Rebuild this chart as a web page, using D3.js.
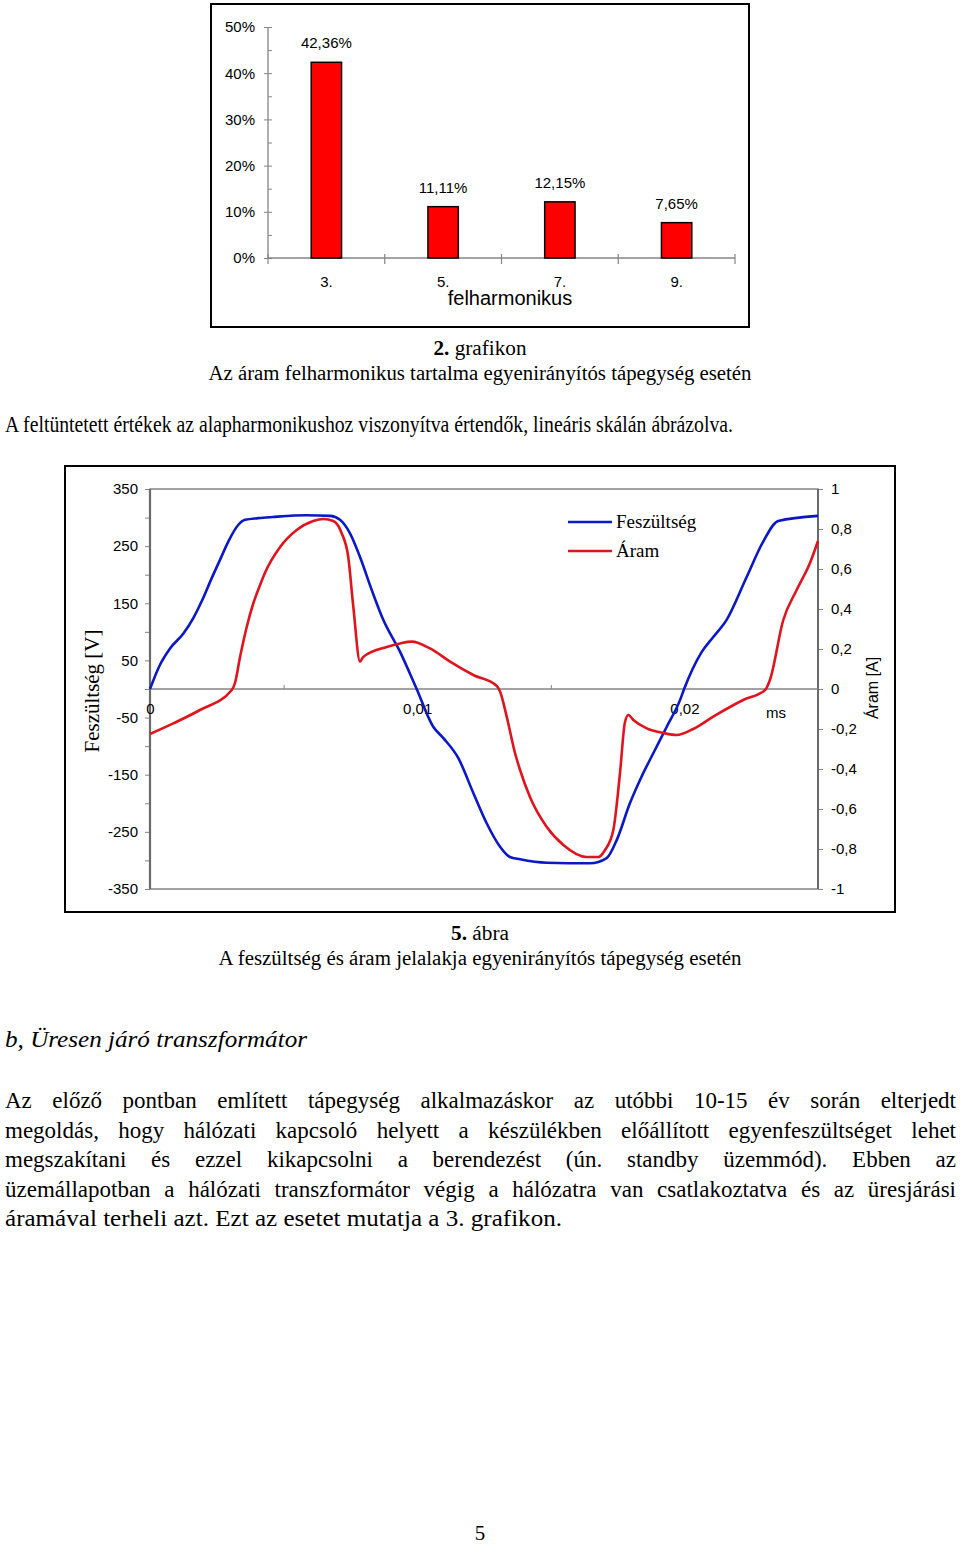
<!DOCTYPE html>
<html><head><meta charset="utf-8">
<script src="https://cdn.jsdelivr.net/npm/d3@7"></script>
<style>body{margin:0;background:#fff;} svg{display:block}</style>
</head><body>
<svg id="page" width="960" height="1545"></svg>
<script>
// ---------- DATA ----------
const harmonicCategories = ["3.", "5.", "7.", "9."];
const harmonicValues = [42.36, 11.11, 12.15, 7.65];
const harmonicLabels = ["42,36%", "11,11%", "12,15%", "7,65%"];
const barTickValues = [0, 10, 20, 30, 40, 50];
const barMinorTicks = [5, 15, 25, 35, 45];

const voltageTime = [0, 0.00037, 0.00075, 0.00125, 0.00162, 0.00193, 0.00231, 0.00262, 0.00293, 0.0033,
  0.00356, 0.00405, 0.0046, 0.00586, 0.00674, 0.00711, 0.00749, 0.00786, 0.0083, 0.00873,
  0.00936, 0.00998, 0.0106, 0.01098, 0.01154, 0.0121, 0.0126, 0.0131, 0.01347, 0.01385,
  0.01485, 0.01647, 0.01709, 0.01747, 0.01796, 0.0184, 0.01884, 0.01934, 0.01984, 0.01999,
  0.02065, 0.02108, 0.02158, 0.02233, 0.02295, 0.02351, 0.0250];
const voltageValues = [0, 42, 71, 97, 124, 153, 194, 226, 258, 287,
  296, 299, 301, 304, 303, 296, 272, 231, 173, 121,
  65, 0, -66, -86, -121, -182, -235, -276, -294, -298,
  -304, -305, -296, -264, -200, -153, -112, -66, -19, 0,
  65, 91, 121, 196, 258, 294, 303];

const currentTime = [0, 0.00087, 0.00187, 0.00306, 0.00318, 0.00337, 0.00362, 0.00387, 0.00412, 0.0043,
  0.00487, 0.00549, 0.00611, 0.00649, 0.00686, 0.00717, 0.00742, 0.00761, 0.00786, 0.00798,
  0.00886, 0.00936, 0.0098, 0.01048, 0.01123, 0.0121, 0.01298, 0.0131, 0.01335, 0.01366,
  0.01385, 0.01422, 0.01485, 0.01547, 0.01634, 0.01678, 0.01703, 0.01734, 0.01759, 0.01777,
  0.0179, 0.01809, 0.01859, 0.01921, 0.01971, 0.02033, 0.02108, 0.0222, 0.02302, 0.0232,
  0.0237, 0.0242, 0.0247, 0.0250];
const currentValues = [-0.225, -0.172, -0.105, -0.005, 0.03, 0.16, 0.31, 0.43, 0.52, 0.58,
  0.71, 0.795, 0.84, 0.85, 0.84, 0.78, 0.66, 0.41, 0.137, 0.16,
  0.21, 0.228, 0.237, 0.203, 0.137, 0.07, 0.015, -0.013, -0.138, -0.32,
  -0.405, -0.54, -0.69, -0.78, -0.84, -0.84, -0.805, -0.705, -0.42, -0.17,
  -0.13, -0.155, -0.197, -0.22, -0.23, -0.2, -0.138, -0.055, -0.005, 0.045,
  0.345, 0.495, 0.63, 0.74];

const voltageTicks = [-350, -250, -150, -50, 50, 150, 250, 350];
const voltageMinorTicks = [-300, -200, -100, 0, 100, 200, 300];
const currentTicks = [-1, -0.8, -0.6, -0.4, -0.2, 0, 0.2, 0.4, 0.6, 0.8, 1];
const timeTickLabels = [0, 0.01, 0.02];
const timeMinorTicks = [0.005, 0.015];
const seriesNames = ["Feszültség", "Áram"];

const bodyLines = [
  "Az előző pontban említett tápegység alkalmazáskor az utóbbi 10-15 év során elterjedt",
  "megoldás,  hogy hálózati kapcsoló helyett a készülékben előállított egyenfeszültséget lehet",
  "megszakítani és ezzel kikapcsolni a berendezést (ún. standby üzemmód). Ebben az",
  "üzemállapotban a hálózati transzformátor végig a hálózatra van csatlakoztatva és az üresjárási",
  "áramával terheli azt. Ezt az esetet mutatja a 3. grafikon."
];

// ---------- RENDER ----------
const svg = d3.select("#page");
const SANS = "'Liberation Sans', Arial, sans-serif";
const SERIF = "'Liberation Serif', 'Times New Roman', serif";
const GRAY = "#858585";
const comma = d => d === 0 ? "0" : String(d).replace(".", ",");

function styleAxis(g, size) {
  g.selectAll("text").attr("font-family", SANS).attr("font-size", size).attr("fill", "#000");
  g.selectAll("line").attr("stroke", GRAY);
  g.select(".domain").remove();
}

// ===== Bar chart =====
svg.append("rect").attr("x", 211).attr("y", 4).attr("width", 538).attr("height", 323)
  .attr("fill", "none").attr("stroke", "#000").attr("stroke-width", 2);

const xb = d3.scaleBand().domain(harmonicCategories).range([268, 735]).padding(0);
const yb = d3.scaleLinear().domain([0, 50]).range([258, 27]);

const gyb = svg.append("g").attr("transform", "translate(268,0)")
  .call(d3.axisLeft(yb).tickValues(barTickValues).tickFormat(d => d + "%").tickSize(5).tickPadding(8));
styleAxis(gyb, 15);
gyb.selectAll(".tick line").attr("x2", -4).attr("x1", 4);
const gybm = svg.append("g").attr("transform", "translate(268,0)")
  .call(d3.axisRight(yb).tickValues(barMinorTicks).tickFormat("").tickSize(4));
styleAxis(gybm, 15);
svg.append("line").attr("x1", 268).attr("x2", 268).attr("y1", yb(50)).attr("y2", yb(0))
  .attr("stroke", GRAY).attr("stroke-width", 1.3);

const gxb = svg.append("g").attr("transform", `translate(0,${yb(0)})`)
  .call(d3.axisBottom(xb).tickSize(0).tickPadding(18));
styleAxis(gxb, 15);
svg.append("line").attr("x1", xb.range()[0]).attr("x2", xb.range()[1]).attr("y1", yb(0)).attr("y2", yb(0))
  .attr("stroke", GRAY).attr("stroke-width", 1.3);
const bounds = harmonicCategories.map(c => xb(c)).concat([xb.range()[1]]);
svg.selectAll(".bnd").data(bounds).enter().append("line")
  .attr("x1", d => d).attr("x2", d => d).attr("y1", yb(0) - 4).attr("y2", yb(0) + 6)
  .attr("stroke", GRAY).attr("stroke-width", 1.2);

const barW = xb.bandwidth() * 0.26;
svg.selectAll(".bar").data(harmonicValues).enter().append("rect")
  .attr("x", (d, i) => xb(harmonicCategories[i]) + (xb.bandwidth() - barW) / 2)
  .attr("y", d => yb(d)).attr("width", barW).attr("height", d => yb(0) - yb(d))
  .attr("fill", "#ff0000").attr("stroke", "#000").attr("stroke-width", 1.5);
svg.selectAll(".blab").data(harmonicValues).enter().append("text")
  .attr("x", (d, i) => xb(harmonicCategories[i]) + xb.bandwidth() / 2)
  .attr("y", d => yb(d) - 14).attr("text-anchor", "middle")
  .attr("font-family", SANS).attr("font-size", 15)
  .text((d, i) => harmonicLabels[i]);
svg.append("text").attr("x", 510).attr("y", 305).attr("text-anchor", "middle")
  .attr("font-family", SANS).attr("font-size", 20).text("felharmonikus");

// ===== captions =====
function fitText(x, y, str, size, width, opts = {}) {
  const t = svg.append("text").attr("x", x).attr("y", y)
    .attr("font-family", SERIF).attr("font-size", size)
    .attr("text-anchor", opts.anchor || "start");
  if (opts.italic) t.attr("font-style", "italic");
  if (opts.boldPrefix) {
    t.append("tspan").attr("font-weight", "bold").text(opts.boldPrefix);
    t.append("tspan").text(str);
  } else t.text(str);
  if (width) t.attr("textLength", width).attr("lengthAdjust", "spacingAndGlyphs");
  return t;
}
fitText(480, 355, " grafikon", 20, 93, { anchor: "middle", boldPrefix: "2." });
fitText(480, 380, "Az áram felharmonikus tartalma egyenirányítós tápegység esetén", 20, 543, { anchor: "middle" });
fitText(5, 432, "A feltüntetett értékek az alapharmonikushoz viszonyítva értendők, lineáris skálán ábrázolva.", 23, 728);

// ===== Line chart =====
svg.append("rect").attr("x", 65).attr("y", 466).attr("width", 830).attr("height", 446)
  .attr("fill", "none").attr("stroke", "#000").attr("stroke-width", 2);

const xt = d3.scaleLinear().domain([0, 0.025]).range([150, 818]);
const yv = d3.scaleLinear().domain([-350, 350]).range([889, 489]);
const yi = d3.scaleLinear().domain([-1, 1]).range([889, 489]);

svg.append("rect").attr("x", 150).attr("y", 489).attr("width", 668).attr("height", 400)
  .attr("fill", "none").attr("stroke", GRAY).attr("stroke-width", 1.5);

const gyl = svg.append("g").attr("transform", "translate(150,0)")
  .call(d3.axisLeft(yv).tickValues(voltageTicks).tickFormat(d => String(d)).tickSize(5).tickPadding(7));
styleAxis(gyl, 15);
const gylm = svg.append("g").attr("transform", "translate(150,0)")
  .call(d3.axisLeft(yv).tickValues(voltageMinorTicks).tickFormat("").tickSize(5));
styleAxis(gylm, 15);
svg.append("line").attr("x1", 150).attr("x2", 150).attr("y1", 489).attr("y2", 889)
  .attr("stroke", "#6a6a6a").attr("stroke-width", 2.2);

const gyr = svg.append("g").attr("transform", "translate(818,0)")
  .call(d3.axisRight(yi).tickValues(currentTicks).tickFormat(comma).tickSize(5).tickPadding(8));
styleAxis(gyr, 15);
svg.append("line").attr("x1", 818).attr("x2", 818).attr("y1", 489).attr("y2", 889)
  .attr("stroke", "#6a6a6a").attr("stroke-width", 2);

svg.append("line").attr("x1", 150).attr("x2", 818).attr("y1", yv(0)).attr("y2", yv(0))
  .attr("stroke", GRAY).attr("stroke-width", 1.3);
const gxt = svg.append("g").attr("transform", `translate(0,${yv(0)})`)
  .call(d3.axisBottom(xt).tickValues(timeTickLabels).tickFormat(comma).tickSize(0).tickPadding(14));
styleAxis(gxt, 15);
const gxtm = svg.append("g").attr("transform", `translate(0,${yv(0)})`)
  .call(d3.axisTop(xt).tickValues(timeMinorTicks).tickFormat("").tickSize(4));
styleAxis(gxtm, 15);
svg.append("text").attr("x", 776).attr("y", yv(0) + 29).attr("text-anchor", "middle")
  .attr("font-family", SANS).attr("font-size", 15).text("ms");

svg.append("text").attr("transform", "translate(99,691) rotate(-90)").attr("text-anchor", "middle")
  .attr("font-family", SERIF).attr("font-size", 21).text("Feszültség [V]");
svg.append("text").attr("transform", "translate(878,688) rotate(-90)").attr("text-anchor", "middle")
  .attr("font-family", SANS).attr("font-size", 16).text("Áram [A]");

const vData = voltageTime.map((t, i) => [t, voltageValues[i]]);
const iData = currentTime.map((t, i) => [t, currentValues[i]]);
svg.append("path").datum(vData)
  .attr("d", d3.line().x(d => xt(d[0])).y(d => yv(d[1])).curve(d3.curveMonotoneX))
  .attr("fill", "none").attr("stroke", "#0a18c8").attr("stroke-width", 2.6);
svg.append("path").datum(iData)
  .attr("d", d3.line().x(d => xt(d[0])).y(d => yi(d[1])).curve(d3.curveMonotoneX))
  .attr("fill", "none").attr("stroke", "#e0141c").attr("stroke-width", 2.6);

const legColors = ["#0a18c8", "#e0141c"];
seriesNames.forEach((n, i) => {
  const y = 522 + i * 29;
  svg.append("line").attr("x1", 568).attr("x2", 612).attr("y1", y).attr("y2", y)
    .attr("stroke", legColors[i]).attr("stroke-width", 2.6);
  svg.append("text").attr("x", 616).attr("y", y + 6).attr("font-family", SERIF).attr("font-size", 19).text(n);
});

fitText(480, 940, " ábra", 20, 58, { anchor: "middle", boldPrefix: "5." });
fitText(480, 965, "A feszültség és áram jelalakja egyenirányítós tápegység esetén", 20, 523, { anchor: "middle" });
fitText(5, 1047, "b, Üresen járó transzformátor", 23, 302, { italic: true });

const bodyLeft = 5, bodyRight = 956;
bodyLines.forEach((line, li) => {
  const y = 1108 + li * 29.6;
  const words = line.split(/\s+/);
  const last = li === bodyLines.length - 1;
  if (last) {
    fitText(bodyLeft, y, line, 23, 557);
    return;
  }
  const els = words.map(w => svg.append("text").attr("y", y).attr("font-family", SERIF).attr("font-size", 23).text(w));
  const widths = els.map(e => e.node().getComputedTextLength());
  const sum = d3.sum(widths);
  const W = bodyRight - bodyLeft;
  const minGap = 6;
  const s = Math.min(1, (W - minGap * (words.length - 1)) / sum);
  const w2 = widths.map(w => w * s);
  const gap = (W - d3.sum(w2)) / (words.length - 1);
  let x = bodyLeft;
  els.forEach((e, i) => {
    e.attr("x", x);
    if (s < 1) e.attr("textLength", w2[i]).attr("lengthAdjust", "spacingAndGlyphs");
    x += w2[i] + gap;
  });
});

svg.append("text").attr("x", 480).attr("y", 1535).attr("dominant-baseline", "middle").attr("text-anchor", "middle")
  .attr("font-family", SERIF).attr("font-size", 21).text("5");
</script>
</body></html>
